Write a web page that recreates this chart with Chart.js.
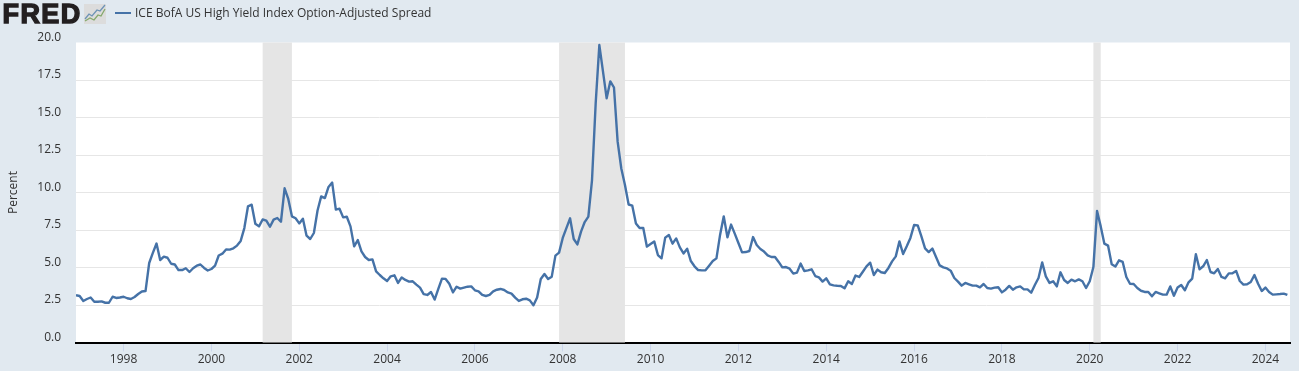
<!DOCTYPE html>
<html lang="en">
<head>
  <meta charset="UTF-8">
  <title>ICE BofA US High Yield Index Option-Adjusted Spread</title>
  <script src="https://cdn.jsdelivr.net/npm/chart.js"></script>
  <style>
    html, body { margin: 0; padding: 0; background: #e1e9f0; overflow: hidden; }
    canvas { display: block; }
  </style>
</head>
<body>
  <canvas id="spreadChart" width="1299" height="371"></canvas>
  <script>
    // monthly values, Dec 1996 onward
    const seriesName = 'ICE BofA US High Yield Index Option-Adjusted Spread';
    const firstYear = 1996, firstMonth = 12;
    const spreadValues = [
      3.15, 3.1, 2.77, 2.9, 3.0, 2.72, 2.72, 2.74, 2.65, 2.65, 3.05, 2.97,
      3.0, 3.05, 2.95, 2.9, 3.03, 3.23, 3.4, 3.43, 5.3, 5.97, 6.6, 5.5,
      5.72, 5.65, 5.25, 5.2, 4.83, 4.83, 4.95, 4.7, 4.95, 5.12, 5.2, 4.97,
      4.8, 4.9, 5.12, 5.8, 5.92, 6.2, 6.19, 6.28, 6.46, 6.77, 7.63, 9.08,
      9.19, 7.92, 7.74, 8.2, 8.12, 7.72, 8.19, 8.3, 8.05, 10.28, 9.57, 8.41,
      8.28, 7.94, 8.25, 7.12, 6.9, 7.3, 8.8, 9.74, 9.63, 10.37, 10.66, 8.86,
      8.92, 8.34, 8.38, 7.74, 6.41, 6.83, 6.08, 5.7, 5.5, 5.54, 4.74, 4.5,
      4.28, 4.1, 4.41, 4.48, 3.97, 4.34, 4.17, 4.06, 4.08, 3.86, 3.66, 3.23,
      3.17, 3.37, 2.86, 3.57, 4.26, 4.24, 3.92, 3.34, 3.72, 3.59, 3.66, 3.72,
      3.74, 3.48, 3.41, 3.17, 3.1, 3.17, 3.41, 3.52, 3.57, 3.5, 3.34, 3.26,
      2.99, 2.77, 2.88, 2.92, 2.81, 2.48, 3.0, 4.23, 4.57, 4.23, 4.39, 5.79,
      5.99, 6.97, 7.63, 8.28, 6.9, 6.54, 7.39, 8.03, 8.39, 10.83, 15.94, 19.83,
      18.06, 16.28, 17.41, 17.0, 13.39, 11.6, 10.5, 9.2, 9.12, 7.94, 7.63, 7.63,
      6.39, 6.57, 6.74, 5.83, 5.61, 6.99, 7.17, 6.59, 6.94, 6.34, 5.94, 6.25,
      5.43, 5.08, 4.83, 4.81, 4.81, 5.12, 5.43, 5.61, 7.19, 8.41, 7.01, 7.86,
      7.26, 6.63, 6.01, 6.03, 6.1, 7.03, 6.5, 6.23, 6.06, 5.81, 5.7, 5.7,
      5.37, 5.01, 5.03, 4.92, 4.59, 4.66, 5.26, 4.77, 4.81, 4.88, 4.43, 4.34,
      4.06, 4.28, 3.88, 3.81, 3.78, 3.77, 3.61, 4.08, 3.9, 4.46, 4.37, 4.72,
      5.08, 5.32, 4.5, 4.86, 4.68, 4.63, 4.97, 5.41, 5.74, 6.74, 5.9, 6.41,
      6.97, 7.83, 7.81, 7.08, 6.28, 6.03, 6.26, 5.7, 5.14, 5.01, 4.94, 4.79,
      4.3, 4.06, 3.79, 3.97, 3.88, 3.79, 3.79, 3.68, 3.9, 3.63, 3.59, 3.66,
      3.68, 3.34, 3.52, 3.77, 3.52, 3.68, 3.74, 3.54, 3.54, 3.32, 3.83, 4.3,
      5.34, 4.41, 3.97, 4.08, 3.74, 4.68, 4.17, 3.97, 4.19, 4.08, 4.21, 4.08,
      3.63, 4.08, 5.03, 8.77, 7.74, 6.59, 6.46, 5.21, 5.06, 5.48, 5.37, 4.37,
      3.92, 3.9, 3.63, 3.45, 3.37, 3.37, 3.08, 3.37, 3.28, 3.19, 3.19, 3.74,
      3.12, 3.66, 3.83, 3.48, 4.01, 4.26, 5.88, 4.88, 5.08, 5.5, 4.7, 4.61,
      4.9, 4.37, 4.28, 4.61, 4.61, 4.77, 4.1, 3.86, 3.88, 4.03, 4.5, 3.92,
      3.43, 3.66, 3.37, 3.19, 3.21, 3.23, 3.26, 3.17
    ];
    const recessionStarts = ['2001-03', '2007-12', '2020-02'];
    const recessionEnds = ['2001-11', '2009-06', '2020-04'];
    const yTicksMax = 20;
    const yTickStep = 2.5;
    const xTickStep = 2;

    const fontFamily = '"Open Sans", sans-serif';
    const toYear = (year, month) => year + (month - 1) / 12;
    const parseMonth = s => toYear(Number(s.slice(0, 4)), Number(s.slice(5, 7)));

    const points = spreadValues.map((v, i) => ({ x: toYear(firstYear, firstMonth) + i / 12, y: v }));

    // white plot, grey recession bands
    const plotBackground = {
      id: 'plotBackground',
      beforeDraw(chart) {
        const { ctx, chartArea: a } = chart;
        ctx.save();
        ctx.fillStyle = '#ffffff';
        ctx.fillRect(a.left, a.top, a.right - a.left, a.bottom - a.top);
        ctx.restore();
      },
      beforeDatasetsDraw(chart) {
        const { ctx, chartArea: a, scales } = chart;
        ctx.save();
        ctx.fillStyle = '#e5e5e5';
        recessionStarts.forEach((s, i) => {
          const x0 = scales.x.getPixelForValue(parseMonth(s));
          const x1 = scales.x.getPixelForValue(parseMonth(recessionEnds[i]));
          ctx.fillRect(x0, a.top, x1 - x0, a.bottom - a.top);
        });
        ctx.restore();
      }
    };

    // logo and the single legend entry above the plot
    const header = {
      id: 'header',
      afterDraw(chart) {
        const { ctx } = chart;
        const dataset = chart.data.datasets[0];
        ctx.save();

        ctx.font = 'bold 27px "Liberation Sans", sans-serif';
        ctx.fillStyle = '#231f20';
        ctx.strokeStyle = '#231f20';
        ctx.lineWidth = 1.4;
        ctx.textBaseline = 'alphabetic';
        ctx.letterSpacing = '1.4px';
        ctx.fillText('FRED', 2.5, 23);
        ctx.strokeText('FRED', 2.5, 23);
        ctx.letterSpacing = '0px';

        ctx.fillStyle = '#dcdcdc';
        ctx.fillRect(84, 4, 22, 20);
        ctx.lineWidth = 1.3;
        ctx.strokeStyle = '#6d93b5';
        ctx.beginPath();
        [[85, 19], [89, 14], [92, 16], [97, 10], [100, 11], [105, 5]].forEach(p => ctx.lineTo(p[0], p[1]));
        ctx.stroke();
        ctx.strokeStyle = '#85a86c';
        ctx.beginPath();
        [[85, 21], [90, 18], [94, 20], [98, 15], [101, 16], [105, 9]].forEach(p => ctx.lineTo(p[0], p[1]));
        ctx.stroke();

        ctx.strokeStyle = dataset.borderColor;
        ctx.lineWidth = 2;
        ctx.beginPath();
        ctx.moveTo(115, 13);
        ctx.lineTo(131, 13);
        ctx.stroke();

        ctx.font = '12px ' + fontFamily;
        ctx.fillStyle = '#333333';
        ctx.textBaseline = 'middle';
        ctx.fillText(dataset.label, 135, 13.5);
        ctx.restore();
      }
    };

    new Chart(document.getElementById('spreadChart').getContext('2d'), {
      type: 'line',
      data: {
        datasets: [{
          label: seriesName,
          data: points,
          borderColor: '#4572a7',
          borderWidth: 2.4,
          pointRadius: 0,
          tension: 0,
          borderJoinStyle: 'round',
          fill: false
        }]
      },
      options: {
        responsive: false,
        animation: false,
        devicePixelRatio: 1,
        layout: {
          autoPadding: false,
          padding: { left: 0, right: 9, top: 42.5, bottom: 0 }
        },
        plugins: { legend: { display: false }, tooltip: { enabled: false } },
        scales: {
          x: {
            type: 'linear',
            min: toYear(firstYear, firstMonth),
            max: 2024.56,
            afterFit(scale) { scale.height = 28.5; },
            border: { color: '#000000', width: 2 },
            grid: { drawOnChartArea: false, color: '#ccd6eb', tickLength: 9 },
            ticks: {
              stepSize: xTickStep,
              includeBounds: false,
              autoSkip: false,
              maxRotation: 0,
              padding: 1,
              color: '#333333',
              font: { family: fontFamily, size: 12 },
              callback: v => String(v)
            }
          },
          y: {
            min: 0,
            max: yTicksMax,
            afterFit(scale) { scale.width = 76; },
            border: { display: false },
            grid: {
              drawTicks: false,
              lineWidth: 1,
              color: ctx => (ctx.tick && ctx.tick.value === yTicksMax ? 'rgba(0,0,0,0)' : '#e6e6e6')
            },
            title: {
              display: true,
              text: 'Percent',
              color: '#333333',
              font: { family: fontFamily, size: 12 },
              padding: { top: 6, bottom: 0 }
            },
            ticks: {
              stepSize: yTickStep,
              padding: 15,
              labelOffset: -5.2,
              color: '#333333',
              font: { family: fontFamily, size: 12 },
              callback: v => v.toFixed(1)
            }
          }
        }
      },
      plugins: [plotBackground, header]
    });
  </script>
</body>
</html>
